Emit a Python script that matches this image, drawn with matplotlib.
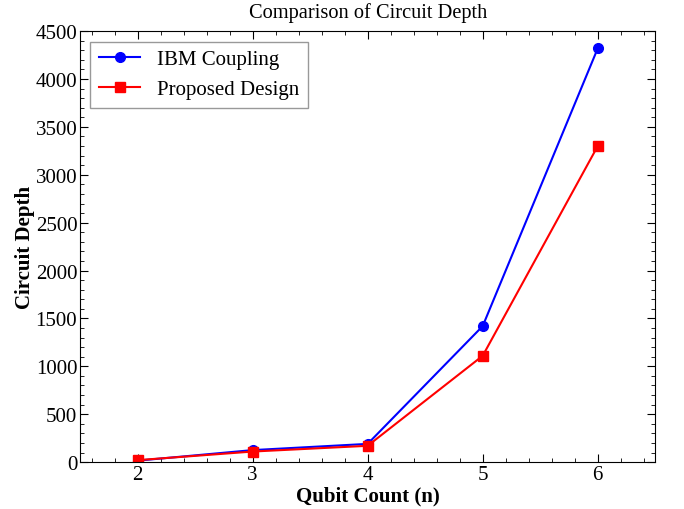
import matplotlib
matplotlib.use("Agg")
import matplotlib.pyplot as plt
from matplotlib.ticker import MultipleLocator

plt.rcParams['font.family'] = ['Liberation Serif', 'DejaVu Serif']

# Data
qubits = [2, 3, 4, 5, 6]
ibm_depth = [15, 125, 190, 1420, 4320]
proposed_depth = [20, 110, 170, 1110, 3300]

fig = plt.figure(figsize=(6.84, 5.1), dpi=100)
ax = fig.add_axes([0.117, 0.092, 0.841, 0.845])

ax.plot(qubits, ibm_depth, color='blue', marker='o', markersize=7, linewidth=1.5, label='IBM Coupling')
ax.plot(qubits, proposed_depth, color='red', marker='s', markersize=7, linewidth=1.5, label='Proposed Design')

ax.set_xlim(1.5, 6.5)
ax.set_ylim(0, 4500)
ax.xaxis.set_major_locator(MultipleLocator(1))
ax.xaxis.set_minor_locator(MultipleLocator(0.2))
ax.yaxis.set_major_locator(MultipleLocator(500))
ax.yaxis.set_minor_locator(MultipleLocator(100))
ax.tick_params(which='both', direction='in', top=True, right=True, labelsize=15, pad=2)
ax.tick_params(which='major', length=6)
ax.tick_params(which='minor', length=3)

ax.set_xlabel('Qubit Count (n)', fontsize=15, fontweight='bold', labelpad=1)
ax.set_ylabel('Circuit Depth', fontsize=15, fontweight='bold', labelpad=0.5)
ax.set_title('Comparison of Circuit Depth', fontsize=14.7, pad=0, y=1.032)

leg = ax.legend(loc='upper left', fontsize=15, fancybox=False, edgecolor='gray',
                borderaxespad=0.5)

fig.savefig('out.png', dpi=100)
